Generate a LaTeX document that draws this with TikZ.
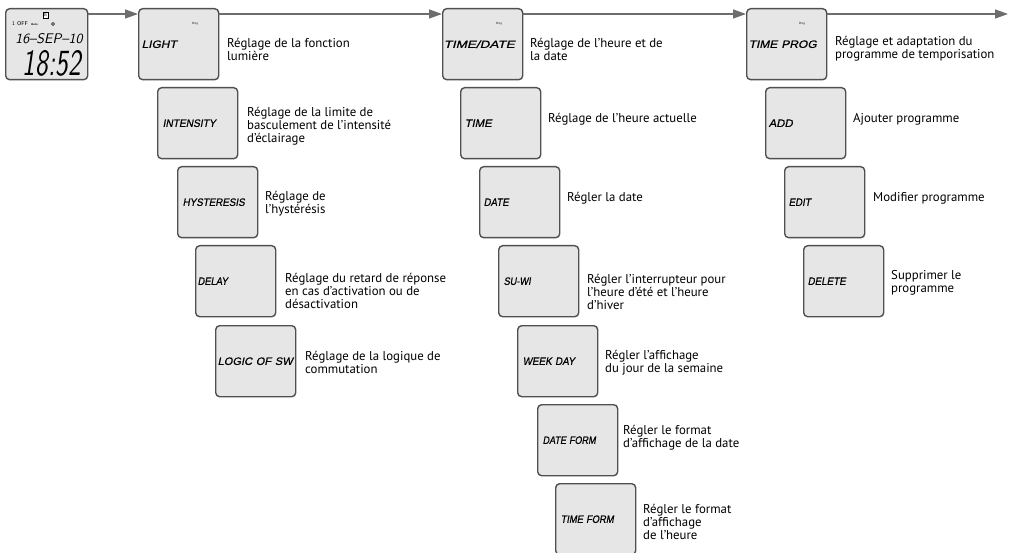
\documentclass[tikz,border=0pt]{standalone}
\usepackage{fontspec}
\usepackage{graphicx}
\setmainfont{PT Sans}
\newfontfamily\lcdfont{Liberation Sans}[FakeSlant=0.2,FakeBold=0.6]
\newcommand{\lcdtxt}[2]{\resizebox{#1pt}{7.5pt}{\lcdfont #2}}
\usetikzlibrary{arrows.meta}
\definecolor{boxfill}{HTML}{E6E6E6}
\definecolor{boxline}{HTML}{505050}
\definecolor{arrowc}{HTML}{6D6D6D}
\begin{document}
\begin{tikzpicture}[x=1pt,y=-1pt,
  lcdbox/.style={draw=boxline, line width=1.4pt, fill=boxfill, rounded corners=4pt,
    minimum width=80pt, minimum height=71pt, text width=72pt, inner xsep=4pt,
    align=left, anchor=north west},
  desc/.style={anchor=west, align=left, inner sep=0pt, font=\fontsize{12.8}{13}\selectfont},
  flow/.style={draw=arrowc, line width=1.4pt, -{Triangle[length=13pt,width=9pt]}},
  prog/.style={font=\fontsize{3}{3}\selectfont, inner sep=0pt},
  tinytxt/.style={inner sep=0pt, anchor=west}
]
\useasboundingbox (0,0) rectangle (1009,553);

% initial display
\node[lcdbox, minimum width=82pt, text width=74pt] (d0) at (5,8) {};
\node[tinytxt, font=\sffamily\fontsize{5.5}{5.5}\selectfont] (off) at (12,24) {1 OFF};
\node[tinytxt, font=\sffamily\bfseries\fontsize{3}{3}\selectfont] (auto) at (31,24) {Auto};
\node[draw, circle, inner sep=0pt, minimum size=3pt, line width=0.4pt] (sun) at (53,24) {};
\node[draw, fill=white, inner sep=0pt, minimum width=5pt, minimum height=6pt, line width=0.5pt, font=\sffamily\fontsize{4}{4}\selectfont] (bicon) at (45.5,15.5) {B};
\node[inner sep=0pt] (date0) at (49,38.5) {\resizebox{67pt}{10pt}{\sffamily\slshape 16--SEP--10}};
\node[inner sep=0pt] (time0) at (52,63) {\resizebox{58pt}{25pt}{\sffamily\slshape 18:52}};

% top level
\node[lcdbox, inner xsep=3pt, text width=74pt] (light) at (138,8) {\lcdtxt{35}{LIGHT}};
\node[lcdbox, inner xsep=1pt, text width=78pt] (timedate) at (442,8) {\lcdtxt{71}{TIME/DATE}};
\node[lcdbox, inner xsep=2pt, text width=76pt] (timeprog) at (746,8) {\lcdtxt{68}{TIME PROG}};
\node[prog] (plight) at (195,23.5) {Prog};
\node[prog] (ptimedate) at (499,24) {Prog};
\node[prog] (ptimeprog) at (802,24) {Prog};

\coordinate (end) at (1008,14);
\draw[flow] ([yshift=-6pt]d0.north east) -- ([yshift=-6pt]light.north west);
\draw[flow] ([yshift=-6pt]light.north east) -- ([yshift=-6pt]timedate.north west);
\draw[flow] ([yshift=-6pt]timedate.north east) -- ([yshift=-6pt]timeprog.north west);
\draw[flow] ([yshift=-6pt]timeprog.north east) -- (end);

% LIGHT column
\node[lcdbox, inner xsep=5pt, text width=70pt] (intensity) at (157,87) {\lcdtxt{53}{INTENSITY}};
\node[lcdbox, inner xsep=5pt, text width=70pt] (hyst) at (177,166) {\lcdtxt{62}{HYSTERESIS}};
\node[lcdbox, inner xsep=2pt, text width=76pt] (delay) at (195,245) {\lcdtxt{30}{DELAY}};
\node[lcdbox, inner xsep=2pt, text width=76pt] (logic) at (215,325) {\lcdtxt{75}{LOGIC OF SW}};

% TIME/DATE column
\node[lcdbox] (time) at (460,87) {\lcdtxt{27}{TIME}};
\node[lcdbox] (date) at (479,166) {\lcdtxt{25}{DATE}};
\node[lcdbox, inner xsep=5pt, text width=70pt] (suwi) at (498,245) {\lcdtxt{27}{SU-WI}};
\node[lcdbox, inner xsep=5pt, text width=70pt] (weekday) at (517,325) {\lcdtxt{52}{WEEK DAY}};
\node[lcdbox, inner xsep=5pt, text width=70pt] (dateform) at (537,404) {\lcdtxt{53}{DATE FORM}};
\node[lcdbox, inner xsep=5pt, text width=70pt] (timeform) at (555,483) {\lcdtxt{53}{TIME FORM}};

% TIME PROG column
\node[lcdbox, inner xsep=3pt, text width=74pt] (add) at (765,87) {\lcdtxt{24}{ADD}};
\node[lcdbox] (edit) at (784,166) {\lcdtxt{22}{EDIT}};
\node[lcdbox] (delete) at (803,245) {\lcdtxt{38}{DELETE}};

% descriptions
\node[desc] (dlight) at (227,49) {Réglage de la fonction\\lumière};
\node[desc] (dintensity) at (247,126) {Réglage de la limite de\\basculement de l’intensité\\d’éclairage};
\node[desc] (dhyst) at (265,204) {Réglage de\\l’hystérésis};
\node[desc] (ddelay) at (285,291) {Réglage du retard de réponse\\en cas d’activation ou de\\désactivation};
\node[desc] (dlogic) at (305,362.5) {Réglage de la logique de\\commutation};

\node[desc] (dtimedate) at (530,49) {Réglage de l’heure et de\\la date};
\node[desc] (dtime) at (548,119) {Réglage de l’heure actuelle};
\node[desc] (ddate) at (567,198) {Régler la date};
\node[desc] (dsuwi) at (587,291.5) {Régler l’interrupteur pour\\l’heure d’été et l’heure\\d’hiver};
\node[desc] (dweekday) at (605,363) {Régler l’affichage\\du jour de la semaine};
\node[desc] (ddateform) at (623,437.5) {Régler le format\\d’affichage de la date};
\node[desc] (dtimeform) at (643,521.5) {Régler le format\\d’affichage\\de l’heure};

\node[desc] (dtimeprog) at (835,49) {Réglage et adaptation du\\programme de temporisation};
\node[desc] (dadd) at (853,119) {Ajouter programme};
\node[desc] (dedit) at (873,198) {Modifier programme};
\node[desc] (ddelete) at (891,283) {Supprimer le\\programme};
\end{tikzpicture}
\end{document}
